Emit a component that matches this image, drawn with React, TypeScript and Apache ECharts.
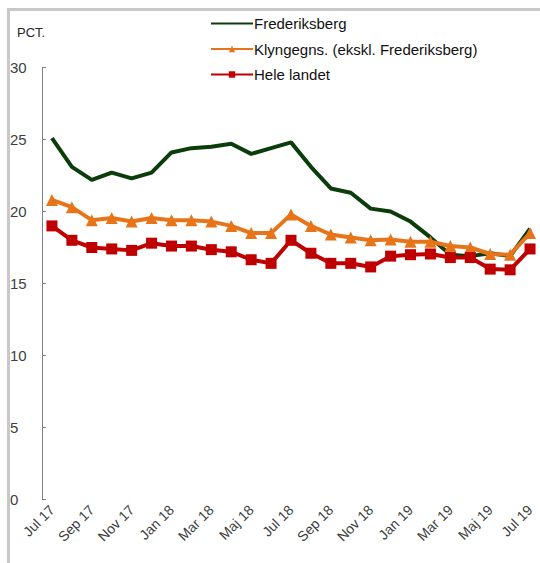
import React, { useEffect, useRef } from "react";
import * as echarts from "echarts";

const categories = [
  "Jul 17", "Aug 17", "Sep 17", "Okt 17", "Nov 17", "Dec 17",
  "Jan 18", "Feb 18", "Mar 18", "Apr 18", "Maj 18", "Jun 18",
  "Jul 18", "Aug 18", "Sep 18", "Okt 18", "Nov 18", "Dec 18",
  "Jan 19", "Feb 19", "Mar 19", "Apr 19", "Maj 19", "Jun 19", "Jul 19",
];

const frederiksberg = [
  25.1, 23.1, 22.2, 22.7, 22.3, 22.7, 24.1, 24.4, 24.5, 24.7, 24.0, 24.4,
  24.8, 23.1, 21.6, 21.3, 20.2, 20.0, 19.3, 18.2, 17.0, 16.9, 17.1, 16.9, 18.8,
];

const klyngegns = [
  20.8, 20.3, 19.4, 19.55, 19.3, 19.55, 19.4, 19.4, 19.3, 19.0, 18.5, 18.5,
  19.8, 19.0, 18.4, 18.2, 18.0, 18.05, 17.9, 17.9, 17.6, 17.5, 17.05, 17.0, 18.5,
];

const heleLandet = [
  19.0, 18.0, 17.5, 17.4, 17.3, 17.8, 17.6, 17.6, 17.35, 17.2, 16.65, 16.4,
  18.0, 17.1, 16.4, 16.4, 16.15, 16.9, 17.0, 17.05, 16.8, 16.8, 16.0, 15.95, 17.4,
];

const seriesNames = [
  "Frederiksberg",
  "Klyngegns. (ekskl. Frederiksberg)",
  "Hele landet",
];

const yTicks = { min: 0, max: 30, interval: 5 };

export default function App() {
  const ref = useRef<HTMLDivElement>(null);

  useEffect(() => {
    if (!ref.current) return;
    const chart = echarts.init(ref.current, undefined, { renderer: "svg" });
    const font = "Liberation Sans, Arial, sans-serif";
    const green = "#0b3d0b";
    const orange = "#e8741a";
    const red = "#c00000";
    chart.setOption({
      animation: false,
      backgroundColor: "#ffffff",
      textStyle: { fontFamily: font },
      graphic: [
        {
          type: "rect",
          shape: { x: 8.5, y: 9.5, width: 640, height: 640 },
          style: { fill: "none", stroke: "#c8c8c8", lineWidth: 3 },
          silent: true,
        },
        {
          type: "text",
          x: 17,
          y: 26,
          style: { text: "PCT.", fontSize: 13, fill: "#262626", fontFamily: font },
        },
      ],
      legend: {
        orient: "vertical",
        left: 205,
        top: 11,
        itemWidth: 42,
        itemHeight: 8,
        itemGap: 10.5,
        textStyle: { fontSize: 15, color: "#111111", fontFamily: font, padding: [0, 0, 0, -4] },
        data: [
          { name: seriesNames[0], itemStyle: { color: "transparent", borderWidth: 0 } },
          { name: seriesNames[1] },
          { name: seriesNames[2] },
        ],
      },
      grid: { left: 42, right: 0, top: 67.5, bottom: 63.5, containLabel: false },
      xAxis: {
        type: "category",
        data: categories,
        boundaryGap: true,
        axisLine: { show: false },
        axisTick: { show: false },
        axisLabel: {
          interval: 1,
          rotate: 45,
          margin: 8,
          fontSize: 14,
          color: "#404040",
          fontFamily: font,
        },
        splitLine: { show: false },
      },
      yAxis: {
        type: "value",
        min: yTicks.min,
        max: yTicks.max,
        interval: yTicks.interval,
        axisLine: { show: true, lineStyle: { color: "#808080", width: 1 } },
        axisTick: { show: true, inside: true, length: 4, lineStyle: { color: "#808080" } },
        axisLabel: {
          align: "left",
          margin: 32,
          fontSize: 15,
          color: "#404040",
          fontFamily: font,
        },
        splitLine: { show: false },
      },
      series: [
        {
          name: seriesNames[0],
          type: "line",
          data: frederiksberg,
          symbol: "none",
          lineStyle: { color: green, width: 4 },
          itemStyle: { color: green },
          z: 2,
        },
        {
          name: seriesNames[1],
          type: "line",
          data: klyngegns,
          symbol: "triangle",
          symbolSize: 12,
          lineStyle: { color: orange, width: 4 },
          itemStyle: { color: orange },
          z: 3,
        },
        {
          name: seriesNames[2],
          type: "line",
          data: heleLandet,
          symbol: "rect",
          symbolSize: 11,
          lineStyle: { color: red, width: 4 },
          itemStyle: { color: red },
          z: 4,
        },
      ],
    });
    return () => chart.dispose();
  }, []);

  return (
    <div
      ref={ref}
      style={{ position: "fixed", left: 0, top: 0, width: 540, height: 563 }}
    />
  );
}
